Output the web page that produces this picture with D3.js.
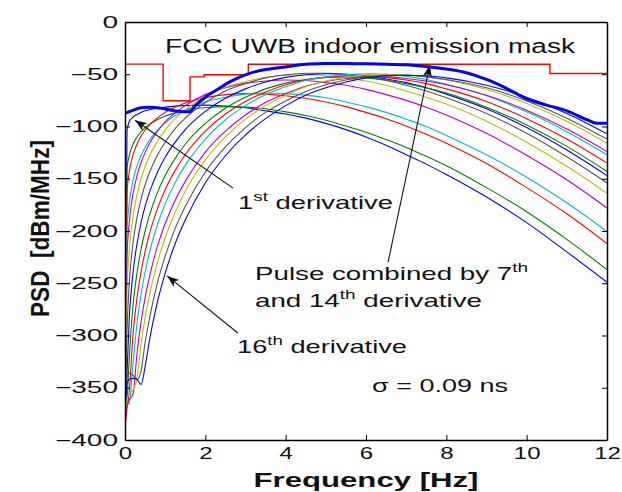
<!DOCTYPE html>
<html>
<head>
<meta charset="utf-8">
<script src="https://cdn.jsdelivr.net/npm/d3@7"></script>
<style>
  body { margin: 0; background: #fff; }
  svg { display: block; }
  text { font-family: "Liberation Sans", Arial, sans-serif; fill: #111; }
</style>
</head>
<body>
<div id="chart"></div>
<script>
// frequency grid (GHz, the axis says Hz) shared by all derivative curves
const freqs = [0, 0.05, 0.1, 0.2, 0.3, 0.4, 0.5, 0.6, 0.8, 1, 1.25, 1.5, 2, 2.5, 3, 3.5, 4, 4.5, 5, 5.5, 6, 6.5, 7, 7.5, 8, 9, 10, 11, 12];

// PSD of each Gaussian derivative, dBm/MHz
const psdD1  = [-400, -104, -96, -91, -88.5, -86.5, -85, -84, -82.5, -81.5, -80.5, -80, -79.5, -80.5, -82, -85, -88, -92, -97, -103, -110, -118, -127, -136, -146, -167.5, -192, -220, -249];
const psdD2  = [-385, -140, -129, -117, -110, -105, -101, -98, -93.5, -90, -87, -84.5, -82, -81, -81.5, -83, -86, -89.5, -94, -99.5, -105.5, -112.5, -120, -128.5, -137.5, -158.5, -181.5, -208, -237];
const psdD3  = [-400, -163, -145, -127, -117, -109, -103.5, -99, -92, -86.5, -81.5, -77.5, -72.5, -69.5, -68.5, -69, -70.5, -73, -76.5, -81, -86.5, -92.5, -99.5, -107.5, -116, -135.5, -158.5, -183.5, -212];
const psdD4  = [-380, -199.5, -175.5, -151.5, -137.5, -127.5, -120, -113.5, -104, -96.5, -89.5, -84.5, -76.5, -72, -69, -68, -68.5, -70, -72.5, -76.5, -81, -86.5, -93, -100, -108.5, -127, -148.5, -173, -200.5];
const psdD5  = [-375, -224.5, -194.5, -164.5, -147, -134.5, -125, -117, -105, -95.5, -87, -80, -69.5, -63, -58.5, -56.5, -55.5, -56, -58, -60.5, -64.5, -69.5, -75, -81.5, -89, -106.5, -127.5, -151, -178];
const psdD6  = [-390, -258, -222, -186, -165, -150, -138.5, -129, -114.5, -103.5, -92.5, -84, -71, -62.5, -57, -53, -51, -50.5, -51.5, -53.5, -56.5, -60.5, -66, -72, -78.5, -95, -115, -138, -164];
const psdD7  = [-370, -296, -253.5, -211.5, -187, -169.5, -156, -145, -128, -115, -102, -92, -77, -66, -59, -53.5, -50.5, -49, -49, -50, -52.5, -56, -60.5, -66, -72.5, -87.5, -106.5, -129, -154];
const psdD8  = [-395, -336.5, -288, -240, -212, -192, -176.5, -164, -144.5, -129.5, -115, -103, -85.5, -73, -64, -57.5, -53, -50.5, -49.5, -50, -51.5, -54.5, -58, -63, -69, -83, -101, -122.5, -147];
const psdD9  = [-372, -362, -325.5, -271.5, -240, -217.5, -200, -186, -164, -147, -130.5, -117, -97, -82.5, -72, -64, -58.5, -55, -53, -52.5, -53.5, -55.5, -59, -63, -68, -81.5, -98.5, -119, -143];
const psdD10 = [-390, -370, -356, -299, -264, -239, -220, -204, -179.5, -160.5, -142, -127, -104.5, -88, -76, -67, -60, -55.5, -53, -51.5, -51.5, -53, -55.5, -59, -64, -76, -92.5, -112, -135];
const psdD11 = [-365, -360, -366, -327, -288, -260.5, -239.5, -222, -195, -174, -153.5, -137, -112, -93.5, -80, -69.5, -62, -56, -52.5, -50.5, -49.5, -50, -52, -55, -59.5, -70.5, -86, -105, -127];
const psdD12 = [-380, -368, -362, -356, -317, -287, -264, -245.5, -215.5, -193, -170.5, -152.5, -124.5, -104.5, -89, -77, -68.5, -61.5, -57, -54, -52.5, -52.5, -54, -56.5, -60, -70, -84.5, -102.5, -124];
const psdD13 = [-375, -362, -355, -352, -341, -308.5, -283.5, -263, -231, -206.5, -182, -162, -132, -110, -93, -80, -70, -62, -56.5, -53, -50.5, -50, -50.5, -52.5, -55.5, -64.5, -78, -95, -116];
const psdD14 = [-370, -340, -336, -338, -342, -334, -307, -285.5, -250.5, -224, -197.5, -176.5, -143.5, -119.5, -101, -86.5, -75.5, -66.5, -60, -55.5, -52.5, -51, -51, -52.5, -55, -63, -75.5, -92, -112];
const psdD15 = [-360, -346, -342, -341, -342, -347, -330, -306.5, -269, -240.5, -212, -189.5, -154, -128, -108, -92.5, -80, -70, -63, -57.5, -53.5, -51.5, -51, -51.5, -53.5, -60.5, -72, -87.5, -107];

// pulse combined by 7th and 14th derivative (thick blue)
const comboFreqs = [0.02, 0.2, 0.4, 0.6, 0.9, 1.1, 1.35, 1.6, 1.75, 2, 2.3, 2.6, 2.9, 3.2, 3.5, 4, 4.5, 5, 5.5, 6, 6.5, 7, 7.5, 8, 8.5, 9, 9.5, 10, 10.5, 11, 11.5, 11.75, 12];
const comboPsd   = [-87, -84.5, -82, -81.5, -82.5, -84, -85.5, -86, -80, -72, -64.5, -57.5, -52, -48, -45.5, -43, -40.5, -39.8, -39.6, -40, -40.5, -41, -42.5, -45, -48.5, -55, -63.5, -73.5, -79.5, -85, -93.5, -97, -97];

// FCC indoor emission mask: band edges and levels
const maskEdges  = [0, 0.95, 1.62, 1.97, 3.07, 10.58, 12];
const maskLevels = [-40.3, -75.3, -52.5, -50.5, -40.5, -49.3];

const xTicks = [0, 2, 4, 6, 8, 10, 12];
const yTicks = [-400, -350, -300, -250, -200, -150, -100, -50, 0];
const lineColors = ["#0000ff", "#008000", "#ff0000", "#00bfbf", "#bf00bf", "#bfbf00", "#555555"];

const derivSeries = [psdD1, psdD2, psdD3, psdD4, psdD5, psdD6, psdD7, psdD8,
                     psdD9, psdD10, psdD11, psdD12, psdD13, psdD14, psdD15];

const width = 622, height = 492;
const x = d3.scaleLinear().domain([0, 12]).range([125, 607]);
const y = d3.scaleLinear().domain([-400, 0]).range([440, 22]);

const svg = d3.select("#chart").append("svg")
  .attr("width", width)
  .attr("height", height)
  .style("background", "#fff");

// stretch text horizontally like the original picture
function widen(sel, sx) {
  sel.each(function() {
    const w = this.getComputedTextLength();
    d3.select(this).attr("textLength", w * sx).attr("lengthAdjust", "spacingAndGlyphs");
  });
}
function fit(sel, w) {
  sel.attr("textLength", w).attr("lengthAdjust", "spacingAndGlyphs");
}

svg.append("clipPath").attr("id", "plot-clip")
  .append("rect")
  .attr("x", x(0)).attr("y", y(0))
  .attr("width", x(12) - x(0)).attr("height", y(-400) - y(0));

const plot = svg.append("g").attr("clip-path", "url(#plot-clip)");

const line = d3.line()
  .x(d => x(d[0]))
  .y(d => y(d[1]))
  .curve(d3.curveMonotoneX);

derivSeries.forEach((vals, i) => {
  plot.append("path")
    .datum(freqs.map((f, j) => [f, vals[j]]))
    .attr("fill", "none")
    .attr("stroke", lineColors[i % lineColors.length])
    .attr("stroke-width", 1.1)
    .attr("d", line);
});

// mask as a step line
const maskPts = maskLevels.map((v, i) => [maskEdges[i], v]);
maskPts.push([maskEdges[maskEdges.length - 1], maskLevels[maskLevels.length - 1]]);
plot.append("path")
  .datum(maskPts)
  .attr("fill", "none")
  .attr("stroke", "#ff0000")
  .attr("stroke-width", 1.4)
  .attr("d", d3.line().x(d => x(d[0])).y(d => y(d[1])).curve(d3.curveStepAfter));

plot.append("path")
  .datum(comboFreqs.map((f, j) => [f, comboPsd[j]]))
  .attr("fill", "none")
  .attr("stroke", "#0000ff")
  .attr("stroke-width", 3)
  .attr("stroke-linejoin", "round")
  .attr("d", line);

// axes, MATLAB style: ticks pointing inward, box all round
const axisFont = 16;
const gx = svg.append("g").attr("transform", `translate(0,${y(-400)})`)
  .call(d3.axisBottom(x).tickValues(xTicks).tickSizeInner(-5).tickSizeOuter(0).tickPadding(8));
const gy = svg.append("g").attr("transform", `translate(${x(0)},0)`)
  .call(d3.axisLeft(y).tickValues(yTicks).tickSizeInner(-5).tickSizeOuter(0).tickPadding(7));
const gt = svg.append("g").attr("transform", `translate(0,${y(0)})`)
  .call(d3.axisTop(x).tickValues(xTicks).tickSizeInner(-5).tickSizeOuter(0).tickFormat(""));
const gr = svg.append("g").attr("transform", `translate(${x(12)},0)`)
  .call(d3.axisRight(y).tickValues(yTicks).tickSizeInner(-5).tickSizeOuter(0).tickFormat(""));

[gx, gy, gt, gr].forEach(g => {
  g.select(".domain").attr("stroke", "#000").attr("stroke-width", 1.5);
  g.selectAll(".tick line").attr("stroke", "#000").attr("stroke-width", 1);
  g.selectAll("text").attr("font-size", axisFont).attr("font-family", null).attr("fill", "#111");
});
gy.selectAll(".tick text").call(widen, 1.75);
gx.selectAll(".tick text").call(widen, 1.5);

// axis labels
svg.append("text")
  .attr("x", (x(0) + x(12)) / 2).attr("y", 487)
  .attr("text-anchor", "middle")
  .attr("font-size", 21).attr("font-weight", "bold")
  .text("Frequency [Hz]")
  .call(fit, 225);

svg.append("text")
  .attr("transform", `translate(48.5,228.5) rotate(-90) scale(1,1.33)`)
  .attr("text-anchor", "middle")
  .attr("font-size", 20).attr("font-weight", "bold")
  .text("PSD\u00a0\u00a0[dBm/MHz]")
  .call(fit, 177);

// annotations
const noteFont = 19;
svg.append("text")
  .attr("x", 165).attr("y", 53)
  .attr("font-size", 19.5)
  .text("FCC UWB indoor emission mask")
  .call(fit, 410);

function supText(px, py, parts, w) {
  const t = svg.append("text").attr("x", px).attr("y", py).attr("font-size", noteFont);
  parts.forEach(p => {
    if (p.sup) {
      t.append("tspan").attr("font-size", 13).attr("dy", -8).text(p.s);
    } else {
      t.append("tspan").attr("dy", p.after ? 8 : 0).text(p.s);
    }
  });
  t.call(fit, w);
  return t;
}

supText(238, 209, [{s: "1"}, {s: "st", sup: true}, {s: "\u00a0derivative", after: true}], 155);
supText(255, 280, [{s: "Pulse combined by 7"}, {s: "th", sup: true}], 273);
supText(255, 307, [{s: "and 14"}, {s: "th", sup: true}, {s: "\u00a0derivative", after: true}], 227);
supText(237, 353, [{s: "16"}, {s: "th", sup: true}, {s: "\u00a0derivative", after: true}], 170);

svg.append("text")
  .attr("x", 372).attr("y", 392)
  .attr("font-size", 18)
  .text("\u03c3 = 0.09 ns")
  .call(fit, 136);

// arrows (tail -> tip), given in data units
const arrows = [
  {from: [2.69, -159], to: [0.25, -94]},
  {from: [2.81, -297.6], to: [1.05, -243]},
  {from: [6.55, -229.7], to: [7.59, -41.1]}
];
arrows.forEach(a => {
  const x1 = x(a.from[0]), y1 = y(a.from[1]), x2 = x(a.to[0]), y2 = y(a.to[1]);
  const ang = Math.atan2(y2 - y1, x2 - x1);
  svg.append("line")
    .attr("x1", x1).attr("y1", y1).attr("x2", x2).attr("y2", y2)
    .attr("stroke", "#111").attr("stroke-width", 1.1);
  svg.append("path")
    .attr("d", "M0,0 L-12,-4.5 L-9,0 L-12,4.5 Z")
    .attr("fill", "#111")
    .attr("transform", `translate(${x2},${y2}) rotate(${ang * 180 / Math.PI})`);
});
</script>
</body>
</html>
